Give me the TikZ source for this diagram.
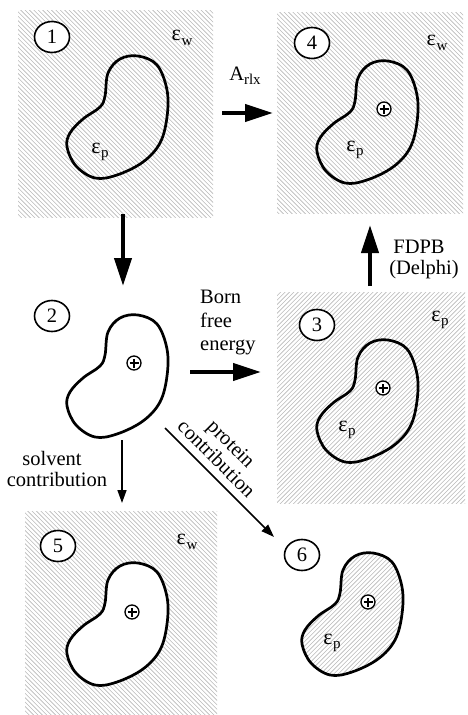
\documentclass[tikz,border=0pt]{standalone}
\usepackage{fontspec}
\setmainfont{Liberation Serif}
\usetikzlibrary{arrows.meta,shapes.geometric}

\newcommand\epsi[1]{\fontsize{22}{22}\selectfont ε\kern0.03em\raisebox{-0.45ex}{\fontsize{15}{15}\selectfont #1}}

% hatch a rectangle with "\" lines
\newcommand\hatchBS[4]{%
  \begin{scope}
    \clip (#1,#2) rectangle (#3,#4);
    \foreach \i in {-240,-235.6,...,210}
      \draw[hatchln] (#1+\i,#2-5) -- ++(240,240);
  \end{scope}}
% hatch a rectangle with "/" lines
\newcommand\hatchFS[4]{%
  \begin{scope}
    \clip (#1,#2) rectangle (#3,#4);
    \foreach \i in {0,4.4,...,450}
      \draw[hatchln] (#1+\i,#2-5) -- ++(-240,240);
  \end{scope}}

\tikzset{
  hatchln/.style={black!28, line width=0.6pt},
  blobline/.style={line width=2.7pt, line join=round},
  blobpath/.style={insert path={plot[smooth cycle, tension=0.6] coordinates {(0,0) (19,9) (29,34) (29,61) (22,87) (5,106) (-21,119) (-43,122) (-62,110) (-71,91) (-68,77) (-55,63) (-38,51) (-33,40) (-30,17) (-18,3)}}},
  numcirc/.style={draw, ellipse, line width=1.6pt, minimum width=35pt, minimum height=31pt, inner sep=0pt, fill=white},
  pc/.style={circle, draw, line width=1.3pt, minimum size=14pt, inner sep=0pt, fill=white,
    path picture={\draw[line width=1.1pt] ([xshift=-4.5pt]path picture bounding box.center) -- ([xshift=4.5pt]path picture bounding box.center);
                  \draw[line width=1.1pt] ([yshift=-4.5pt]path picture bounding box.center) -- ([yshift=4.5pt]path picture bounding box.center);}},
  bigarrow/.style={line width=4pt, -{Triangle[length=28pt,width=17pt]}},
  thinarrow/.style={line width=1.6pt, -{Triangle[length=13pt,width=9pt]}},
  lbl/.style={inner sep=0pt},
}

\begin{document}
\begin{tikzpicture}[x=1pt, y=-1pt, font=\fontsize{20.5}{21}\selectfont]
\useasboundingbox (0,0) rectangle (467,715);

% ---------- panel 1 ----------
\hatchBS{18}{10}{213}{217}
\draw[blobline, shift={(138,56)}, blobpath];
\node[numcirc] (n1) at (52,37) {1};
\node[lbl] (e1w) at (182,38) {\epsi{w}};
\node[lbl] (e1p) at (100,152) {\epsi{p}};

% ---------- panel 4 ----------
\hatchBS{277}{12}{463}{213}
\draw[blobline, shift={(388,61)}, blobpath];
\node[numcirc] (n4) at (312,43) {4};
\node[lbl] (e4w) at (437,43) {\epsi{w}};
\node[lbl] (e4p) at (355,150) {\epsi{p}};
\node[pc] (p4) at (384,109) {};

% ---------- panel 2 ----------
\draw[blobline, shift={(138,315)}, blobpath];
\node[numcirc] (n2) at (52,316) {2};
\node[pc] (p2) at (134,363) {};

% ---------- panel 3 ----------
\hatchFS{277}{292}{465}{503}
\draw[blobline, shift={(388,340)}, blobpath];
\node[numcirc] (n3) at (317,325) {3};
\node[lbl] (e3w) at (440,320) {\epsi{p}};
\node[lbl] (e3p) at (347,430) {\epsi{p}};
\node[pc] (p3) at (383,388) {};

% ---------- panel 5 ----------
\hatchBS{25}{511}{217}{715}
\fill[white, shift={(138,563)}, blobpath];
\draw[blobline, shift={(138,563)}, blobpath];
\node[numcirc] (n5) at (58,546) {5};
\node[lbl] (e5w) at (187,542) {\epsi{w}};
\node[pc] (p5) at (132,612) {};

% ---------- panel 6 ----------
\begin{scope}
  \path[clip, shift={(373,553)}, blobpath];
  \foreach \i in {0,4.4,...,300}
    \draw[hatchln] (300+\i,545) -- ++(-160,160);
\end{scope}
\draw[blobline, shift={(373,553)}, blobpath];
\node[numcirc] (n6) at (302,555) {6};
\node[lbl] (e6p) at (332,643) {\epsi{p}};
\node[pc] (p6) at (368,602) {};

% ---------- arrows ----------
\coordinate (r1) at (222,113);
\coordinate (r2) at (273,113);
\draw[bigarrow] (r1) -- (r2);
\node[lbl] (arlx) at (245,76) {A\raisebox{-0.45ex}{\fontsize{15}{15}\selectfont rlx}};

\coordinate (d1) at (123,214);
\coordinate (d2) at (123,286);
\draw[bigarrow] (d1) -- (d2);

\coordinate (b1) at (190,372);
\coordinate (b2) at (261,372);
\draw[bigarrow] (b1) -- (b2);
\node[lbl, anchor=base west] (born1) at (200,303) {Born};
\node[lbl, anchor=base west] (born2) at (200,327) {free};
\node[lbl, anchor=base west] (born3) at (200,350) {energy};

\coordinate (f1) at (370,286);
\coordinate (f2) at (370,225);
\draw[bigarrow] (f1) -- (f2);
\node[lbl, anchor=base] (fd1) at (419,253) {FDPB};
\node[lbl, anchor=base] (fd2) at (424,274) {(Delphi)};

\coordinate (s1) at (122,440);
\coordinate (s2) at (122,503);
\draw[thinarrow] (s1) -- (s2);
\node[lbl, anchor=base] (sol1) at (52,465) {solvent};
\node[lbl, anchor=base] (sol2) at (57,486) {contribution};

\coordinate (q1) at (165,428);
\coordinate (q2) at (274,537);
\draw[thinarrow] (q1) -- (q2);
\node[lbl, rotate=-45, align=center] (prot) at (224,451) {protein\\contribution};
\end{tikzpicture}
\end{document}
